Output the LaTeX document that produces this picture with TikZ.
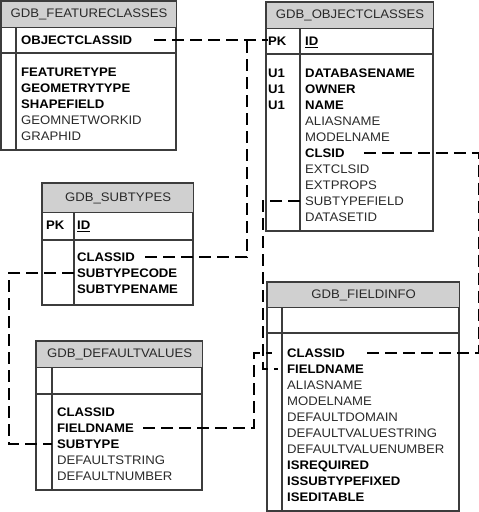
\documentclass[tikz,border=0pt]{standalone}
\usepackage{fontspec}
\setmainfont{Liberation Sans}[FakeStretch=1.06]
\definecolor{hdrgray}{HTML}{D0D0D0}
\definecolor{linegray}{HTML}{3C3C3C}
\definecolor{txtgray}{HTML}{2A2A2A}
\begin{document}
\begin{tikzpicture}[x=1pt,y=-1pt,
  every node/.style={font=\fontsize{12.4}{14}\selectfont},
  title/.style={draw=linegray,line width=1.2pt,fill=hdrgray,text=txtgray,anchor=north west,inner sep=0pt},
  frame/.style={draw=linegray,line width=1.2pt},
  keyfield/.style={anchor=west,inner sep=0pt,text height=8.8pt,text depth=0pt,font=\fontsize{12.4}{14}\selectfont\bfseries},
  plainfield/.style={anchor=west,inner sep=0pt,text height=8.8pt,text depth=0pt,text=txtgray},
  link/.style={line width=1.2pt,dash pattern=on 12pt off 6pt}]
\useasboundingbox (0,0) rectangle (479,512);
% GDB_FEATURECLASSES
\draw[frame] (1,1) rectangle (176,150);
\draw[frame] (1,53) -- (176,53) (16,27) -- (16,150);
\node[title,minimum width=175pt,minimum height=26pt] (fc) at (1,1) {GDB\_FEATURECLASSES};
\node[keyfield] (fc-OBJECTCLASSID) at (21,40) {OBJECTCLASSID};
\foreach \f/\s [count=\i from 0] in {FEATURETYPE/keyfield,GEOMETRYTYPE/keyfield,SHAPEFIELD/keyfield,GEOMNETWORKID/plainfield,GRAPHID/plainfield}
  \node[\s] (fc-\f) at (21,{72+16*\i}) {\f};
% GDB_OBJECTCLASSES
\draw[frame] (266,2) rectangle (433,231);
\draw[frame] (266,54) -- (433,54) (300,28) -- (300,231);
\node[title,minimum width=167pt,minimum height=26pt] (oc) at (266,2) {GDB\_OBJECTCLASSES};
\node[keyfield] (oc-PK) at (268,41) {PK};
\node[keyfield] (oc-ID) at (305,41) {\underline{ID}};
\foreach \f/\s [count=\i from 0] in {DATABASENAME/keyfield,OWNER/keyfield,NAME/keyfield,ALIASNAME/plainfield,MODELNAME/plainfield,CLSID/keyfield,EXTCLSID/plainfield,EXTPROPS/plainfield,SUBTYPEFIELD/plainfield,DATASETID/plainfield}
  \node[\s] (oc-\f) at (305,{73+16*\i}) {\f};
\foreach \i in {0,1,2}
  \node[keyfield] (oc-U1-\i) at (268,{73+16*\i}) {U1};
% GDB_SUBTYPES
\draw[frame] (42,183) rectangle (193,305);
\draw[frame] (42,240) -- (193,240) (74,212) -- (74,305);
\node[title,minimum width=151pt,minimum height=29pt] (st) at (42,183) {GDB\_SUBTYPES};
\node[keyfield] (st-PK) at (46,225) {PK};
\node[keyfield] (st-ID) at (77,225) {\underline{ID}};
\foreach \f [count=\i from 0] in {CLASSID,SUBTYPECODE,SUBTYPENAME}
  \node[keyfield] (st-\f) at (77,{257+16*\i}) {\f};
% GDB_DEFAULTVALUES
\draw[frame] (36,341) rectangle (202,490);
\draw[frame] (36,394) -- (202,394) (52,367) -- (52,490);
\node[title,minimum width=166pt,minimum height=26pt] (dv) at (36,341) {GDB\_DEFAULTVALUES};
\foreach \f/\s [count=\i from 0] in {CLASSID/keyfield,FIELDNAME/keyfield,SUBTYPE/keyfield,DEFAULTSTRING/plainfield,DEFAULTNUMBER/plainfield}
  \node[\s] (dv-\f) at (57,{412+16*\i}) {\f};
% GDB_FIELDINFO
\draw[frame] (267,282) rectangle (459,511);
\draw[frame] (267,333) -- (459,333) (282,307) -- (282,511);
\node[title,minimum width=192pt,minimum height=25pt] (fi) at (267,282) {GDB\_FIELDINFO};
\foreach \f/\s [count=\i from 0] in {CLASSID/keyfield,FIELDNAME/keyfield,ALIASNAME/plainfield,MODELNAME/plainfield,DEFAULTDOMAIN/plainfield,DEFAULTVALUESTRING/plainfield,DEFAULTVALUENUMBER/plainfield,ISREQUIRED/keyfield,ISSUBTYPEFIXED/keyfield,ISEDITABLE/keyfield}
  \node[\s] (fi-\f) at (287,{353+16*\i}) {\f};
% relationships
\coordinate (rgt) at ([xshift=18pt]fi.east);
\draw[link] ([xshift=22pt]fc-OBJECTCLASSID.east) -- (oc-PK.west |- fc-OBJECTCLASSID.east);
\draw[link] ([xshift=10pt]st-CLASSID.east) -| ([xshift=-21pt]oc-PK.west);
\draw[link] ([xshift=-5pt]oc-SUBTYPEFIELD.west) -- ++(-37pt,0) |- ([xshift=-9pt]fi-FIELDNAME.west);
\draw[link] ([xshift=9pt]dv-FIELDNAME.east) -| ([xshift=-33pt]fi-CLASSID.west) -- ([xshift=-15pt]fi-CLASSID.west);
\draw[link] ([xshift=19pt]oc-CLSID.east) -- (rgt |- oc-CLSID) -- (rgt |- fi-CLASSID) -- ([xshift=22pt]fi-CLASSID.east);
\draw[link] ([xshift=-3pt]st-SUBTYPECODE.west) -- ++(-65pt,0) |- ([xshift=-5pt]dv-SUBTYPE.west);
\end{tikzpicture}
\end{document}
